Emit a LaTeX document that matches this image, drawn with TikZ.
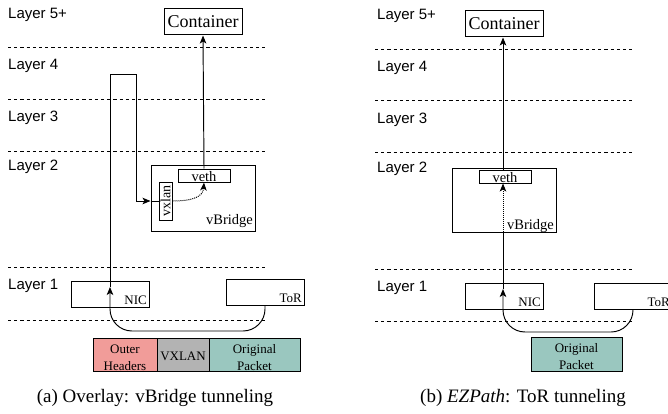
\documentclass[tikz,border=0pt]{standalone}
\usepackage{fontspec}
\setmainfont{Liberation Serif}
\setsansfont{Liberation Sans}
\usetikzlibrary{arrows.meta}

\definecolor{outerred}{HTML}{F19C99}
\definecolor{vxgray}{HTML}{B3B3B3}
\definecolor{origteal}{HTML}{9AC7BF}

\tikzset{
  layerlabel/.style={anchor=west, inner sep=0, font=\sffamily\fontsize{15}{18}\selectfont},
  layerline/.style={line width=1pt, dash pattern=on 3.2pt off 3pt},
  boxnode/.style={draw, line width=1pt, inner sep=0, minimum width=#1},
  boxtext/.style={inner sep=0, font=\fontsize{#1}{#1}\selectfont},
  flow/.style={line width=0.95pt},
  tip/.style={-{Stealth[length=8pt,width=6.5pt,inset=2pt]}},
  dotflow/.style={line width=1pt, dash pattern=on 1pt off 1pt},
  pktbox/.style={draw, line width=1pt},
  pkttext/.style={align=center, inner sep=0, font=\fontsize{13}{17}\selectfont},
  caption/.style={inner sep=0, font=\fontsize{19}{22}\selectfont}
}

\begin{document}
\begin{tikzpicture}[x=1pt,y=-1pt]
\useasboundingbox (0,0) rectangle (668,414);

% ---------------- (a) overlay ----------------
\node[layerlabel] (la5) at (8,15) {Layer 5+};
\node[layerlabel] (la4) at (8,66) {Layer 4};
\node[layerlabel] (la3) at (8,118) {Layer 3};
\node[layerlabel] (la2) at (8,167) {Layer 2};
\node[layerlabel] (la1) at (8,286) {Layer 1};
\foreach \yy in {48,100,152,267,320}
  \draw[layerline] (8,\yy) -- (267,\yy);

\node[boxnode=78pt, minimum height=26pt, font=\fontsize{18}{18}\selectfont] (acont) at (203,22) {Container};
\node[boxnode=104pt, minimum height=66pt] (abr) at (203,198) {};
\node[boxtext=14.5, anchor=base east] (abrt) at (253,224) {vBridge};
\node[boxnode=52pt, minimum height=13pt] (aveth) at (204,175.5) {};
\node[boxtext=14.5, anchor=base] (avetht) at (204,181) {veth};
\node[boxnode=38pt, minimum height=13pt, rotate=90, font=\fontsize{14}{14}\selectfont] (avx) at (165.5,201) {vxlan};

\node[boxnode=78pt, minimum height=26pt] (anic) at (110,294) {};
\node[boxtext=13, anchor=base east] (anict) at (147,304) {NIC};
\node[boxnode=78pt, minimum height=26pt] (ator) at (265,292.5) {};
\node[boxtext=13, anchor=base east] (atort) at (302,302) {ToR};

\coordinate (anictip) at (110,287);
\coordinate (abrin) at (abr.west |- avx.south);
% ToR -> NIC below the hosts
\draw[flow, tip, rounded corners=22pt] (ator.south) -- (265,331) -- (110,331) -- (anictip);
% NIC up and over into the vxlan device
\draw[flow, tip] (anictip) -- (110,74) -- (136,74) -- (136,201) -- (abrin);
\draw[flow] (abrin) -- (avx.north);
% vxlan -> veth
\draw[dotflow, tip] (avx.south) .. controls (192,201) and (203,197) .. (aveth.south);
% veth -> container
\draw[flow, tip] (aveth.north) -- (acont.south);

% packet format
\draw[pktbox, fill=outerred] (93,338) rectangle (157,371);
\draw[pktbox, fill=vxgray] (157,338) rectangle (209,371);
\draw[pktbox, fill=origteal] (209,338) rectangle (300,371);
\node[pkttext] (aph) at (125,358) {Outer\\Headers};
\node[pkttext] (apv) at (183,356) {VXLAN};
\node[pkttext] (apo) at (254.5,358) {Original\\Packet};

\node[caption] (capa) at (155,398) {(a) Overlay: vBridge tunneling};

% ---------------- (b) EZPath ----------------
\node[layerlabel] (lb5) at (377,16) {Layer 5+};
\node[layerlabel] (lb4) at (377,68) {Layer 4};
\node[layerlabel] (lb3) at (377,120) {Layer 3};
\node[layerlabel] (lb2) at (377,169) {Layer 2};
\node[layerlabel] (lb1) at (377,288) {Layer 1};
\foreach \yy in {50,101,153,269,321}
  \draw[layerline] (375,\yy) -- (635,\yy);

\node[boxnode=78pt, minimum height=26pt, font=\fontsize{18}{18}\selectfont] (bcont) at (504,24) {Container};
\node[boxnode=104pt, minimum height=64pt] (bbr) at (504,200) {};
\node[boxtext=14.5, anchor=base east] (bbrt) at (554,229) {vBridge};
\node[boxnode=52pt, minimum height=13pt] (bveth) at (505,176.5) {};
\node[boxtext=14.5, anchor=base] (bvetht) at (505,182) {veth};

\node[boxnode=78pt, minimum height=26pt] (bnic) at (504,296) {};
\node[boxtext=13, anchor=base east] (bnict) at (541,306) {NIC};
\node[boxnode=78pt, minimum height=26pt] (btor) at (633,296) {};
\node[boxtext=13, anchor=base east] (btort) at (670,306) {ToR};

\coordinate (bnictip) at (503,289);
\coordinate (bbrin) at (503,232);
% ToR -> NIC below the hosts
\draw[flow, tip, rounded corners=22pt] (btor.south) -- (633,332) -- (503,332) -- (bnictip);
% NIC straight up to the bridge, then on to veth
\draw[flow] (bnictip) -- (bbrin);
\draw[dotflow, tip] (bbrin) -- (bveth.south -| bbrin);
\draw[flow, tip] (bveth.north -| bbrin) -- (bcont.south -| bbrin);

% packet format
\draw[pktbox, fill=origteal] (531,337) rectangle (622,371);
\node[pkttext] (bpo) at (576.5,357) {Original\\Packet};

\node[caption] (capb) at (523,398) {(b) \textit{EZPath}: ToR tunneling};
\end{tikzpicture}
\end{document}
